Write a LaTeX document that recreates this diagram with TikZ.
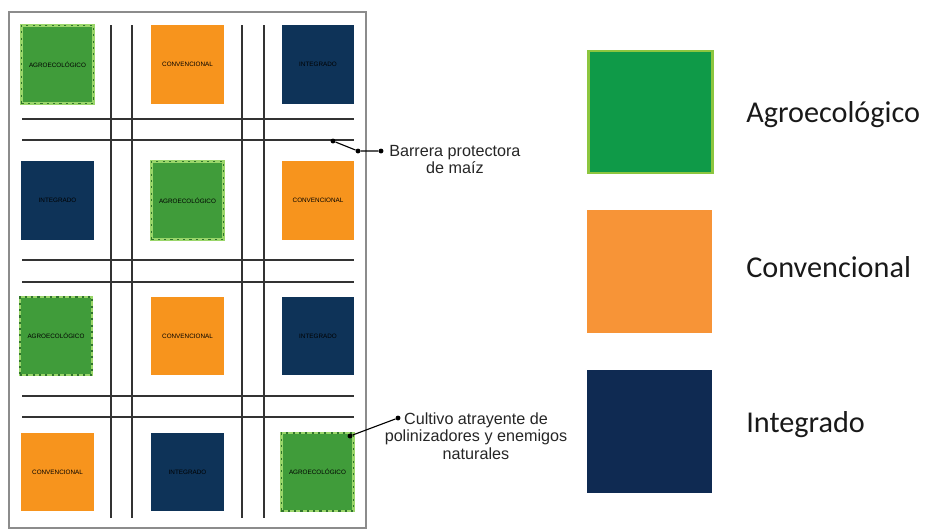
\documentclass[tikz,border=0pt]{standalone}
\usepackage{fontspec}
\setmainfont{Liberation Sans}
\newfontfamily\legendfont{Carlito}
\definecolor{agro}{HTML}{409C3A}
\definecolor{agroedge}{HTML}{9AD66A}
\definecolor{conv}{HTML}{F7941D}
\definecolor{integ}{HTML}{0E3358}
\definecolor{legagro}{HTML}{0F9A48}
\definecolor{legedge}{HTML}{8CC63F}
\definecolor{legconv}{HTML}{F79437}
\definecolor{leginteg}{HTML}{0F2A52}
\tikzset{
  plot/.style={minimum width=1.8cm,minimum height=1.95cm,inner sep=0pt,
    font=\fontsize{4.5}{5}\selectfont,text=black},
  agroplot/.style={plot,fill=agro,draw=agroedge,line width=2pt,
    postaction={draw=agro!75!black,line width=0.9pt,dash pattern=on 1.5pt off 3pt}},
  convplot/.style={plot,fill=conv},
  intplot/.style={plot,fill=integ},
  road/.style={draw=black!80,line width=0.9pt},
  dot/.style={circle,fill=black,inner sep=0pt,minimum size=3.5pt},
  note/.style={font=\fontsize{11.5}{12.5}\selectfont,align=center,inner sep=0pt,text=black!85},
  legbox/.style={minimum width=3.1cm,minimum height=3.05cm,inner sep=0pt},
  legtext/.style={font=\legendfont\fontsize{21.5}{24}\selectfont,anchor=west,inner sep=0pt,text=black!90}
}
\begin{document}
\begin{tikzpicture}[x=0.025cm,y=-0.025cm]
  \useasboundingbox (0,0) rectangle (928,529);
  % field
  \draw[black!45,line width=0.8pt] (9,12) rectangle (366,528);
  \foreach \x in {111,132,242,264}
    \draw[road] (\x,25) -- (\x,518);
  \foreach \y in {119,140,260,282,396,417}
    \draw[road] (22,\y) -- (354,\y);
  % plots
  \node[agroplot] (p11) at (57.5,64.5) {AGROECOLÓGICO};
  \node[convplot] (p12) at (187.5,64.5) {CONVENCIONAL};
  \node[intplot]  (p13) at (318,64.5) {INTEGRADO};
  \node[intplot]  (p21) at (57.5,200.5) {INTEGRADO};
  \node[agroplot] (p22) at (187.5,200.5) {AGROECOLÓGICO};
  \node[convplot] (p23) at (318,200.5) {CONVENCIONAL};
  \node[agroplot] (p31) at (56,336) {AGROECOLÓGICO};
  \node[convplot] (p32) at (187.5,336) {CONVENCIONAL};
  \node[intplot]  (p33) at (318,336) {INTEGRADO};
  \node[convplot] (p41) at (57.5,472) {CONVENCIONAL};
  \node[intplot]  (p42) at (187.5,472) {INTEGRADO};
  \node[agroplot] (p43) at (317.5,472) {AGROECOLÓGICO};
  % barrera
  \node[dot] (b1) at (333,141) {};
  \node[dot] (b2) at (358,151) {};
  \node[dot] (b3) at (381,151) {};
  \draw[thick] (b1) -- (b2) -- (b3);
  \node[note,anchor=north west] (barrera) at (389,145) {Barrera protectora\\de maíz};
  % cultivo
  \node[dot] (c1) at (350,436) {};
  \node[dot] (c2) at (398,418) {};
  \draw[thick] (c1) -- (c2);
  \node[note,anchor=north] (cultivo) at (476,412) {Cultivo atrayente de\\polinizadores y enemigos\\naturales};
  % legend
  \node[legbox,fill=legagro,draw=legedge,line width=1.5pt] (lagro) at (650.5,112) {};
  \node[legbox,fill=legconv] (lconv) at (649.5,271.5) {};
  \node[legbox,fill=leginteg] (linteg) at (649.5,431.5) {};
  \node[legtext] (tagro) at (746,115) {Agroecológico};
  \node[legtext] (tconv) at (746,267) {Convencional};
  \node[legtext] (tinteg) at (746,425) {Integrado};
\end{tikzpicture}
\end{document}
